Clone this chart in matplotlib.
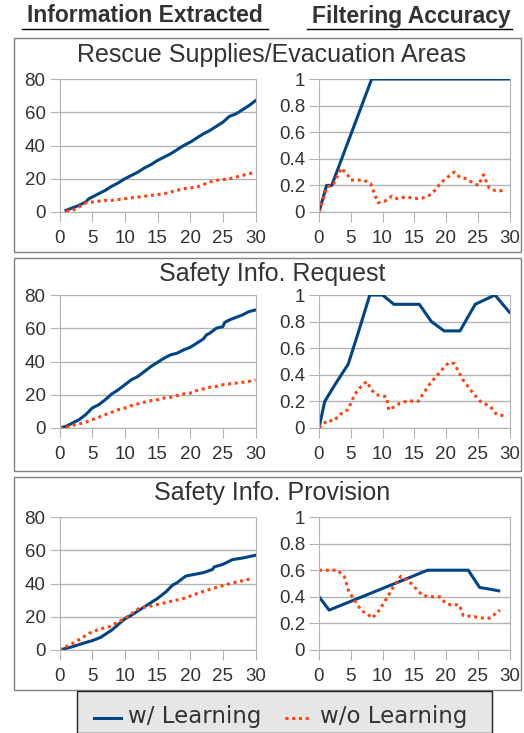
import numpy as np
import matplotlib
matplotlib.use("Agg")
import matplotlib.pyplot as plt
from matplotlib.patches import Rectangle
from matplotlib.lines import Line2D

plt.rcParams['font.family'] = ['Liberation Sans', 'DejaVu Sans']

W, H = 524, 733
BLUE = '#004586'
ORANGE = '#ff420e'
GRID = '#b3b3b3'
TXT = '#333333'

titles = ["Rescue Supplies/Evacuation Areas", "Safety Info. Request", "Safety Info. Provision"]

# --- information extracted (count) ---
ext1_x_w = [1, 2, 3, 4, 4.5, 5, 6, 7, 8, 9, 10, 11, 12, 13, 14, 15, 16, 17, 18, 19, 20,
            21, 22, 23, 24, 25, 26, 27, 28, 29, 30]
ext1_y_w = [1, 2.5, 4, 6, 8, 9, 11, 13, 15.5, 17.5, 20, 22, 24, 26.5, 28.5, 31, 33, 35, 37.5, 40, 42,
            44.5, 47, 49, 51.5, 54, 57.5, 59, 61.5, 64, 67]
ext1_x_wo = [1, 2, 3, 4, 5, 6, 7, 8, 9, 10, 11, 12, 13, 14, 15, 16, 17, 18, 19, 20,
             21, 22, 23, 24, 25, 26, 27, 28, 29, 30]
ext1_y_wo = [0.5, 1, 3, 5.5, 6, 6.5, 7, 7, 7.5, 8, 8.5, 9, 9.5, 10, 10.5, 11, 12, 13, 14, 14.5,
             15, 16.5, 18, 19, 19.5, 20, 21, 22, 23, 24]

ext2_x_w = [0, 1, 2, 3, 4, 5, 6, 7, 8, 9, 10, 11, 12, 13, 14, 15, 16, 17, 18, 19, 20,
            21, 22, 22.5, 23, 24, 25, 25.3, 26, 27, 28, 29, 30]
ext2_y_w = [0, 1, 3, 5, 8, 12, 14, 17, 20.5, 23, 26, 29, 31, 34, 37, 39.5, 42, 44, 45, 47, 48.5,
            51, 53.5, 56, 57, 60, 61, 63.5, 65, 66.5, 68, 70, 71]
ext2_x_wo = list(range(0, 31))
ext2_y_wo = [0, 0.5, 1.5, 2.5, 3.5, 5, 6.5, 8, 9.5, 11, 12, 13.5, 14.5, 15.5, 16.5, 17,
             18, 18.5, 19.5, 20.5, 21, 22.5, 23.5, 24.5, 25, 26, 26.5, 27, 27.5, 28, 29]

ext3_x_w = [0, 2, 4, 5, 6.3, 8, 9.9, 11.2, 13, 15, 16.3, 17.3, 18, 19.3, 20, 22, 23.4, 23.7,
            25, 26.5, 28, 30]
ext3_y_w = [0, 2, 4.5, 5.6, 7.6, 12, 18.4, 21.4, 26, 31, 35, 39, 40.5, 44.4, 45, 46.5, 48.4, 50,
            51.5, 54.4, 55.3, 57]
ext3_x_wo = [0, 2.5, 4.5, 6, 7.6, 10, 12.2, 15, 19, 21.4, 23.4, 26.5, 29.5]
ext3_y_wo = [0, 5, 10, 12.4, 14, 19, 25, 27.4, 31, 34.4, 37, 40.4, 43]

# --- filtering accuracy ---
acc1_x_w = [0, 1.2, 2, 8.3, 30]
acc1_y_w = [0, 0.2, 0.2, 1, 1]
acc1_x_wo = [0, 1.3, 2.2, 3.5, 4.5, 5, 7, 8.1, 9.3, 10.3, 11.5, 12.3, 13.2, 14.2, 15.1, 16.3,
             17.2, 18.2, 19.2, 20.2, 21.3, 22.2, 23.2, 24.2, 25.1, 25.9, 26.8, 27.8, 28.7, 29.4]
acc1_y_wo = [0, 0.19, 0.2, 0.33, 0.28, 0.24, 0.24, 0.215, 0.07, 0.08, 0.12, 0.1, 0.11, 0.11,
             0.1, 0.105, 0.12, 0.16, 0.22, 0.26, 0.30, 0.26, 0.25, 0.22, 0.2, 0.28, 0.18, 0.16,
             0.16, 0.17]

acc2_x_w = [0, 0.9, 2.7, 4.6, 6.2, 8.0, 10.0, 11.8, 15.8, 17.7, 19.7, 22.2, 24.6, 27.7, 30]
acc2_y_w = [0, 0.2, 0.34, 0.48, 0.72, 1.0, 1.0, 0.93, 0.93, 0.8, 0.73, 0.73, 0.93, 1.0, 0.87]
acc2_x_wo = [0, 1.4, 2.2, 3.3, 4.6, 5.6, 6.4, 7.5, 8.3, 9.05, 10.6, 11.0, 12.7, 14.0, 15.6,
             17.5, 19.3, 20.4, 21.3, 22.7, 24.3, 25.4, 27.0, 28.0, 29.6]
acc2_y_wo = [0, 0.06, 0.05, 0.1, 0.14, 0.25, 0.3, 0.35, 0.285, 0.25, 0.235, 0.135, 0.185,
             0.205, 0.2, 0.335, 0.435, 0.49, 0.485, 0.36, 0.26, 0.2, 0.16, 0.1, 0.09]

acc3_x_w = [0, 1.6, 17.1, 23.5, 25.3, 26.6, 28.3]
acc3_y_w = [0.4, 0.3, 0.6, 0.6, 0.47, 0.46, 0.445]
acc3_x_wo = [0, 1.8, 2.9, 4.0, 4.7, 5.8, 6.6, 7.6, 8.4, 9.5, 10.8, 11.9, 12.9, 14.0, 15.0, 16.3,
             17.9, 19.0, 20.0, 20.8, 22.1, 22.7, 24.5, 25.8, 26.9, 27.7, 28.5]
acc3_y_wo = [0.6, 0.6, 0.6, 0.55, 0.44, 0.36, 0.3, 0.27, 0.24, 0.3, 0.4, 0.49, 0.555, 0.525,
             0.475, 0.41, 0.4, 0.4, 0.35, 0.34, 0.34, 0.26, 0.25, 0.24, 0.24, 0.27, 0.3]

extracted = [(ext1_x_w, ext1_y_w, ext1_x_wo, ext1_y_wo),
             (ext2_x_w, ext2_y_w, ext2_x_wo, ext2_y_wo),
             (ext3_x_w, ext3_y_w, ext3_x_wo, ext3_y_wo)]
accuracy = [(acc1_x_w, acc1_y_w, acc1_x_wo, acc1_y_wo),
            (acc2_x_w, acc2_y_w, acc2_x_wo, acc2_y_wo),
            (acc3_x_w, acc3_y_w, acc3_x_wo, acc3_y_wo)]

x_ticks = [0, 5, 10, 15, 20, 25, 30]
ext_ticks = [0, 20, 40, 60, 80]
acc_ticks = [0, 0.2, 0.4, 0.6, 0.8, 1]
acc_labels = ['0', '0.2', '0.4', '0.6', '0.8', '1']


def rect(x0, y0, x1, y1):
    # pixel box (top-left origin) -> figure fraction
    return [x0 / W, 1 - y1 / H, (x1 - x0) / W, (y1 - y0) / H]


fig = plt.figure(figsize=(W / 100, H / 100), dpi=100)

# column headers
fig.text(145 / W, 1 - 16 / H, "Information Extracted", ha='center', va='center',
         fontsize=16.5, fontweight='bold', color=TXT)
fig.text(411 / W, 1 - 16 / H, "Filtering Accuracy", ha='center', va='center',
         fontsize=16.5, fontweight='bold', color=TXT)
fig.add_artist(Line2D([22 / W, 268 / W], [1 - 28.5 / H] * 2, color='black', lw=1))
fig.add_artist(Line2D([307 / W, 512 / W], [1 - 28.5 / H] * 2, color='black', lw=1))

boxes = [(38, 252), (258, 471), (477, 690)]
title_y = [55, 274, 493]
ax_rows = [(79, 212), (295, 428), (517, 650)]
left_x = (59.5, 255.5)
right_x = (319, 509.5)


def style(ax, yt, ylab, ymax):
    ax.set_xlim(0, 30)
    ax.set_ylim(0, ymax)
    ax.set_xticks(x_ticks)
    ax.set_yticks(yt)
    ax.set_yticklabels(ylab)
    ax.grid(True, axis='y', color=GRID, lw=1)
    ax.set_axisbelow(True)
    ax.spines['top'].set_visible(False)
    for s in ['left', 'bottom', 'right']:
        ax.spines[s].set_color(GRID)
    ax.tick_params(direction='out', length=7, color=GRID, labelcolor=TXT,
                   labelsize=13.5, pad=3)
    ax.tick_params(axis='x', pad=6)
    ax.patch.set_alpha(0)


for i in range(3):
    y0, y1 = boxes[i]
    fig.add_artist(Rectangle((14 / W, 1 - y1 / H), (521 - 14) / W, (y1 - y0) / H,
                             transform=fig.transFigure, fill=False, ec='#808080', lw=1))
    fig.text(272 / W, 1 - title_y[i] / H, titles[i], ha='center', va='center',
             fontsize=18, color=TXT)
    ty0, ty1 = ax_rows[i]

    ax = fig.add_axes(rect(left_x[0], ty0, left_x[1], ty1))
    xw, yw, xo, yo = extracted[i]
    ax.plot(xw, yw, color=BLUE, lw=2.2, solid_joinstyle='round')
    ax.plot(xo, yo, color=ORANGE, lw=2.2, linestyle=(0, (1, 1.2)))
    style(ax, ext_ticks, [str(t) for t in ext_ticks], 80)

    ax = fig.add_axes(rect(right_x[0], ty0, right_x[1], ty1))
    xw, yw, xo, yo = accuracy[i]
    ax.plot(xw, yw, color=BLUE, lw=2.2, solid_joinstyle='round')
    ax.plot(xo, yo, color=ORANGE, lw=2.2, linestyle=(0, (1, 1.2)))
    style(ax, acc_ticks, acc_labels, 1)

# legend panel along the bottom
fig.add_artist(Rectangle((77 / W, 0), (492 - 77) / W, (H - 698) / H + 0.01,
                         transform=fig.transFigure, fc='#e6e6e6', ec='#222222', lw=1))
fig.add_artist(Line2D([94 / W, 121 / W], [1 - 718 / H] * 2, color=BLUE, lw=2.2))
fig.text(128 / W, 1 - 717 / H, "w/ Learning", ha='left', va='center', fontsize=16.5,
         color=TXT, family='DejaVu Sans')
fig.add_artist(Line2D([285 / W, 310 / W], [1 - 718 / H] * 2, color=ORANGE, lw=2.2,
                      linestyle=(0, (1, 1.2))))
fig.text(320 / W, 1 - 717 / H, "w/o Learning", ha='left', va='center', fontsize=16.5,
         color=TXT, family='DejaVu Sans')

fig.savefig("out.png", dpi=100)
